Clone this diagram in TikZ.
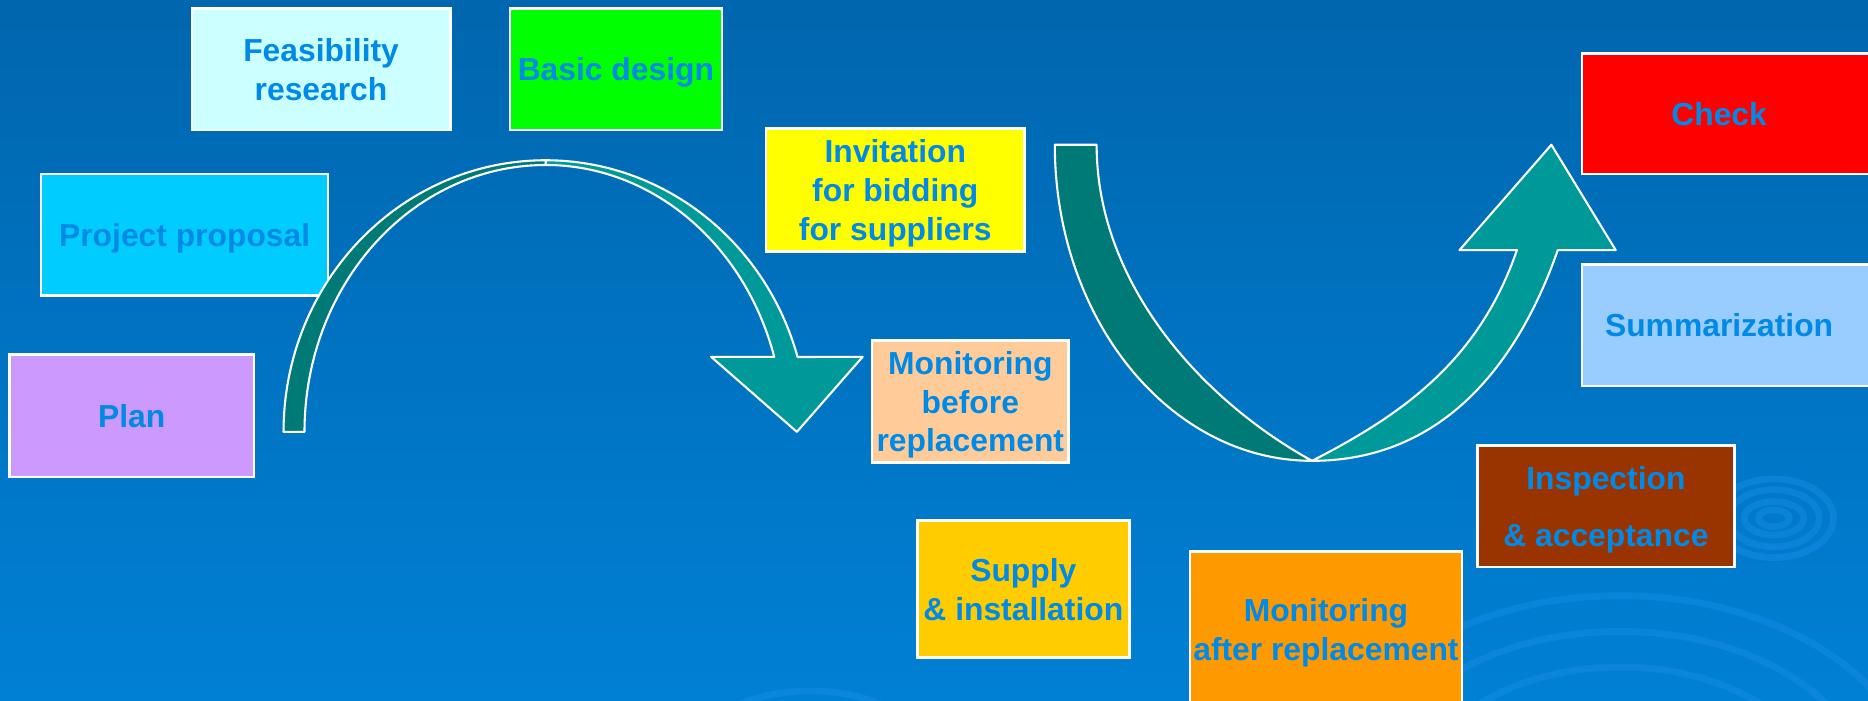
\documentclass[tikz,border=0pt]{standalone}
\usepackage{fontspec}
\setmainfont{Liberation Sans}
\definecolor{bgTop}{RGB}{0,102,174}
\definecolor{bgBottom}{RGB}{0,128,212}
\definecolor{rippleBlue}{RGB}{20,140,228}
\definecolor{labelBlue}{RGB}{0,138,232}
\definecolor{darkTeal}{RGB}{0,122,118}
\definecolor{lightTeal}{RGB}{0,153,153}

\begin{document}
\begin{tikzpicture}
\tikzstyle{stepBox}=[shape = rectangle, draw = white, line width = 0.6pt, inner sep = 0pt, align = center, text depth = 0pt, text = labelBlue, font = \fontsize{7.6}{9.3}\selectfont\bfseries]
\tikzstyle{ribbonBack}=[fill = darkTeal, draw = white, line width = 0.5pt, line join = round]
\tikzstyle{ribbonFront}=[fill = lightTeal, draw = white, line width = 0.5pt, line join = round]
\tikzstyle{rippleStyle}=[draw = rippleBlue, line width = 1.6pt, opacity = 0.5]
\useasboundingbox (0,0) rectangle (15.68,-5.88);
\clip (0,0) rectangle (15.68,-5.88);
% background
\shade[top color = bgTop, bottom color = bgBottom] (0,0) rectangle (15.68,-5.88);
\draw[rippleStyle] (14.89,-4.35) ellipse (0.13 and 0.07);
\draw[rippleStyle] (14.89,-4.35) ellipse (0.25 and 0.14);
\draw[rippleStyle] (14.89,-4.35) ellipse (0.38 and 0.24);
\draw[rippleStyle] (14.89,-4.35) ellipse (0.50 and 0.33);
\draw[rippleStyle] (13.60,-6.70) ellipse (1.70 and 1.10);
\draw[rippleStyle] (13.60,-6.70) ellipse (2.10 and 1.40);
\draw[rippleStyle] (13.60,-6.70) ellipse (2.50 and 1.70);
\draw[rippleStyle] (6.80,-6.50) ellipse (1.10 and 0.70);
% the boxes
\node[stepBox, fill = {rgb,255:red,204;green,153;blue,255}, minimum width = 2.05cm, minimum height = 1.025cm] (plan) at (1.105,-3.49) {Plan};
\node[stepBox, fill = {rgb,255:red,0;green,204;blue,255}, minimum width = 2.41cm, minimum height = 1.02cm] (proposal) at (1.55,-1.97) {Project proposal};
\node[stepBox, fill = {rgb,255:red,204;green,255;blue,255}, minimum width = 2.17cm, minimum height = 1.02cm] (feasibility) at (2.695,-0.58) {Feasibility\\research};
\node[stepBox, fill = {rgb,255:red,0;green,255;blue,0}, minimum width = 1.78cm, minimum height = 1.02cm] (basic) at (5.17,-0.58) {Basic design};
\node[stepBox, fill = {rgb,255:red,255;green,255;blue,0}, minimum width = 2.17cm, minimum height = 1.03cm] (bidding) at (7.515,-1.595) {Invitation\\for bidding\\for suppliers};
\node[stepBox, fill = {rgb,255:red,255;green,204;blue,153}, minimum width = 1.65cm, minimum height = 1.02cm] (monBefore) at (8.145,-3.37) {Monitoring\\before\\replacement};
\node[stepBox, fill = {rgb,255:red,255;green,204;blue,0}, minimum width = 1.78cm, minimum height = 1.15cm] (supply) at (8.59,-4.945) {Supply\\\& installation};
\node[stepBox, fill = {rgb,255:red,255;green,153;blue,0}, minimum width = 2.28cm, minimum height = 1.31cm] (monAfter) at (11.13,-5.285) {Monitoring\\after replacement};
\node[stepBox, fill = {rgb,255:red,153;green,51;blue,0}, minimum width = 2.16cm, minimum height = 1.02cm] (inspection) at (13.48,-4.25) {Inspection\\[4.3pt]\& acceptance};
\node[stepBox, fill = {rgb,255:red,255;green,0;blue,0}, minimum width = 2.62cm, minimum height = 1.01cm] (check) at (14.59,-0.955) {Check\hspace*{0.32cm}};
\node[stepBox, fill = {rgb,255:red,153;green,204;blue,255}, minimum width = 2.62cm, minimum height = 1.02cm] (summary) at (14.59,-2.73) {Summarization\hspace*{0.32cm}};
% arch arrow
\draw[ribbonFront] (4.58,-1.345) arc[start angle = 90, end angle = 16, x radius = 2.2, y radius = 2.28] -- (7.241,-2.995) -- (6.689,-3.625) -- (5.969,-2.995) -- (6.499,-2.996) arc[start angle = 16.3, end angle = 90, x radius = 2.0, y radius = 2.24] -- cycle;
\draw[ribbonBack] (2.38,-3.625) arc[start angle = 180, end angle = 90, x radius = 2.2, y radius = 2.28] -- (4.58,-1.385) arc[start angle = 90, end angle = 180, x radius = 2.024, y radius = 2.24] -- cycle;
% u arrow
\draw[ribbonFront] (11.013,-3.868) .. controls (12.113,-3.868) and (12.744,-3.049) .. (13.076,-2.099) -- (13.562,-2.099) -- (13.022,-1.215) -- (12.251,-2.099) -- (12.733,-2.099) .. controls (12.423,-2.999) and (11.813,-3.46) .. (11.013,-3.868) -- cycle;
\draw[ribbonBack] (8.854,-1.215) -- (9.205,-1.215) .. controls (9.205,-2.40) and (10.113,-3.373) .. (11.013,-3.868) .. controls (9.821,-3.868) and (8.854,-2.680) .. (8.854,-1.215) -- cycle;
\end{tikzpicture}
\end{document}
